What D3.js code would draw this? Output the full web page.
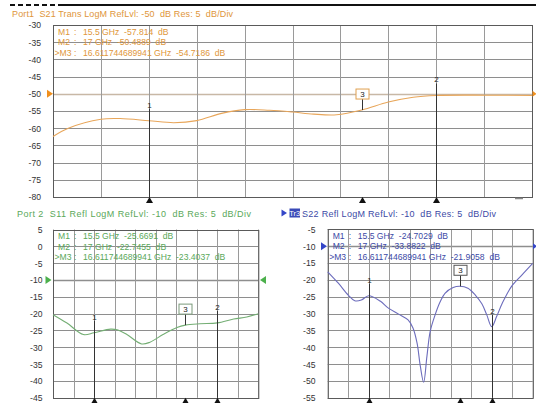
<!DOCTYPE html>
<html><head><meta charset="utf-8">
<script src="https://cdn.jsdelivr.net/npm/d3@7"></script>
<style>
html,body{margin:0;padding:0;background:#fff;}
svg{display:block;font-family:"Liberation Sans",Arial,sans-serif;}
text{white-space:pre;}
</style></head><body>
<svg id="chart" width="536" height="403"></svg>
<script>
// Sweep: 15 GHz to 17.5 GHz, 0.25 GHz per division
const freqGrid = [15.0, 15.25, 15.5, 15.75, 16.0, 16.25, 16.5, 16.75, 17.0, 17.25, 17.5];

// Marker frequencies (GHz): M1, M2, M3
const markerFreqs = [15.5, 17, 16.611744689941];

// S21 transmission (dB)
const s21Freq = [15.0, 15.08, 15.25, 15.35, 15.5, 15.63, 15.75, 15.88, 16.0, 16.13, 16.25, 16.36, 16.48, 16.611744689941, 16.75, 16.88, 17.0, 17.25, 17.5];
const s21Vals = [-62.4, -60.0, -57.4, -57.2, -57.814, -58.4, -57.8, -55.7, -54.6, -54.8, -55.3, -55.9, -56.1, -54.7186, -52.4, -51.0, -50.4889, -50.4, -50.5];
const s21Markers = [-57.814, -50.4889, -54.7186];
const s21Ticks = [-30, -35, -40, -45, -50, -55, -60, -65, -70, -75, -80];

// S11 reflection (dB)
const s11Freq = [15.0, 15.17, 15.37, 15.5, 15.7, 15.78, 15.9, 16.08, 16.18, 16.34, 16.51, 16.611744689941, 16.79, 17.0, 17.2, 17.36, 17.5];
const s11Vals = [-20.3, -22.8, -26.2, -25.6691, -24.6, -24.8, -26.2, -29.0, -28.5, -26.2, -24.1, -23.4037, -23.0, -22.7455, -21.6, -21.0, -20.0];
const s11Markers = [-25.6691, -22.7455, -23.4037];
const s11Ticks = [5, 0, -5, -10, -15, -20, -25, -30, -35, -40, -45];

// S22 reflection (dB)
const s22Freq = [15.0, 15.13, 15.25, 15.33, 15.41, 15.5, 15.64, 15.74, 15.86, 15.98, 16.04, 16.09, 16.13, 16.17, 16.21, 16.25, 16.31, 16.37, 16.43, 16.53, 16.611744689941, 16.71, 16.8, 16.88, 16.94, 17.0, 17.06, 17.13, 17.24, 17.37, 17.5];
const s22Vals = [-17.6, -21.0, -24.5, -26.2, -26.0, -24.7029, -26.3, -28.4, -30.1, -31.9, -34.3, -38.8, -45.7, -50.4, -42.7, -35.3, -30.4, -26.6, -24.0, -22.3, -21.9058, -22.5, -24.5, -27.1, -30.4, -33.8822, -30.9, -26.9, -22.0, -18.5, -15.1];
const s22Markers = [-24.7029, -33.8822, -21.9058];
const s22Ticks = [-5, -10, -15, -20, -25, -30, -35, -40, -45, -50, -55];

const svg = d3.select("#chart");
const FONT = 8.6;

// top rule
svg.append("line").attr("x1", 10).attr("x2", 62).attr("y1", 5).attr("y2", 5)
  .attr("stroke", "#111").attr("stroke-width", 2).attr("stroke-dasharray", "5,3");
svg.append("line").attr("x1", 62).attr("x2", 536).attr("y1", 5).attr("y2", 5)
  .attr("stroke", "#111").attr("stroke-width", 2);

function drawPanel(p) {
  const g = svg.append("g");
  const x = d3.scaleLinear().domain([freqGrid[0], freqGrid[freqGrid.length - 1]]).range([p.left, p.right]);
  const y = d3.scaleLinear().domain([p.ticks[0], p.ticks[p.ticks.length - 1]]).range([p.top, p.bottom]);

  // grid
  g.selectAll(".hg").data(p.ticks).join("line")
    .attr("x1", p.left).attr("x2", p.right)
    .attr("y1", d => Math.round(y(d)) + 0.5).attr("y2", d => Math.round(y(d)) + 0.5)
    .attr("stroke", d => d === p.refLvl ? p.refGrid : "#8e8e8e").attr("stroke-width", d => d === p.refLvl ? 1.6 : 1);
  g.selectAll(".vg").data(freqGrid).join("line")
    .attr("x1", d => Math.round(x(d)) + 0.5).attr("x2", d => Math.round(x(d)) + 0.5)
    .attr("y1", p.top).attr("y2", p.bottom)
    .attr("stroke", "#9a9a9a").attr("stroke-width", 1);
  g.append("rect").attr("x", p.left + 0.5).attr("y", Math.round(p.top) + 0.5)
    .attr("width", p.right - p.left).attr("height", Math.round(p.bottom) - Math.round(p.top))
    .attr("fill", "none").attr("stroke", "#5a5a5a").attr("stroke-width", 1);

  // dB labels
  const ax = d3.axisLeft(y).tickValues(p.ticks).tickSize(0).tickPadding(0).tickFormat(d => String(d));
  const ag = g.append("g").attr("transform", `translate(${p.labelRight},0)`).call(ax);
  ag.select(".domain").remove();
  ag.selectAll("text").attr("font-size", FONT).attr("font-family", '"Liberation Sans",Arial,sans-serif')
    .attr("fill", "#333").attr("dy", "0.34em");

  // reference level arrows
  const ry = y(p.refLvl);
  g.append("path").attr("d", `M${p.arrowL},${ry - 4}L${p.arrowL + 6},${ry}L${p.arrowL},${ry + 4}Z`).attr("fill", p.arrow);
  if (p.arrowR !== undefined) {
    g.append("path").attr("d", p.arrowRight
      ? `M${p.arrowR + 6},${ry - 4}L${p.arrowR},${ry}L${p.arrowR + 6},${ry + 4}Z`
      : `M${p.arrowR},${ry - 3}L${p.arrowR + 4},${ry}L${p.arrowR},${ry + 3}Z`).attr("fill", p.arrow);
  }

  // trace
  const pts = p.freq.map((f, i) => [f, p.vals[i]]);
  g.append("path").datum(pts)
    .attr("d", d3.line().x(d => x(d[0])).y(d => y(d[1])).curve(d3.curveCatmullRom.alpha(0.5)))
    .attr("fill", "none").attr("stroke", p.trace).attr("stroke-width", 1.1);

  // markers
  markerFreqs.forEach((f, i) => {
    const mx = Math.round(x(f)) + 0.5, my = y(p.markers[i]);
    if (i < 2) {
      g.append("line").attr("x1", mx).attr("x2", mx).attr("y1", my - 12).attr("y2", p.bottom)
        .attr("stroke", "#333").attr("stroke-width", 1);
      g.append("text").attr("x", mx).attr("y", my - 13).attr("text-anchor", "middle")
        .attr("font-size", 8).attr("fill", "#222").text(String(i + 1));
    } else {
      g.append("line").attr("x1", mx).attr("x2", mx).attr("y1", my - 11).attr("y2", my)
        .attr("stroke", "#333").attr("stroke-width", 1);
      g.append("rect").attr("x", mx - 6.5).attr("y", my - 21).attr("width", 13).attr("height", 10)
        .attr("fill", "#fff").attr("stroke", p.box).attr("stroke-width", 1);
      g.append("text").attr("x", mx).attr("y", my - 13).attr("text-anchor", "middle")
        .attr("font-size", 8).attr("fill", "#222").text("3");
    }
    g.append("path").attr("d", `M${mx},${p.bottom}L${mx + 3.5},${p.bottom + 6}L${mx - 3.5},${p.bottom + 6}Z`)
      .attr("fill", "#111");
  });

  // marker readout
  const rowOff = [6.5, 17, 27.5];
  markerFreqs.forEach((f, i) => {
    const ty = p.top + rowOff[i] + 3;
    const name = i === 2 ? ">M3" : "M" + (i + 1);
    g.append("text").attr("x", p.left + (i === 2 ? 1.5 : 5)).attr("y", ty).attr("font-size", FONT)
      .attr("fill", p.text).text(name);
    g.append("text").attr("x", p.left + 21).attr("y", ty).attr("font-size", FONT).attr("fill", p.text).text(":");
    g.append("text").attr("x", p.left + 30).attr("y", ty).attr("font-size", FONT).attr("fill", p.text)
      .text(`${String(f)} GHz  ${String(p.markers[i])}  dB`);
  });

  // title
  g.append("text").attr("x", p.titleX).attr("y", p.titleY).attr("font-size", FONT + 0.4)
    .attr("fill", p.text).attr("textLength", p.titleW).attr("lengthAdjust", "spacing").text(p.title);
  return { x, y, g };
}

const transPanel = drawPanel({
  left: 53, right: 532, top: 25, bottom: 197, labelRight: 41,
  ticks: s21Ticks, refLvl: -50, refGrid: "#c8b8a6",
  freq: s21Freq, vals: s21Vals, markers: s21Markers,
  trace: "#e8a65a", text: "#e0963a", box: "#e0a050", arrow: "#f0901e",
  arrowL: 47, arrowR: 532.5,
  title: "Port1  S21 Trans LogM RefLvl: -50  dB Res: 5  dB/Div", titleX: 12, titleY: 16.5, titleW: 221
});
// small stub on the lower edge
transPanel.g.append("line").attr("x1", 515).attr("x2", 523).attr("y1", 198.5).attr("y2", 198.5)
  .attr("stroke", "#888").attr("stroke-width", 1.5);

drawPanel({
  left: 53, right: 258.3, top: 229.5, bottom: 397.8, labelRight: 42.5,
  ticks: s11Ticks, refLvl: -10, refGrid: "#8e8e8e",
  freq: s11Freq, vals: s11Vals, markers: s11Markers,
  trace: "#74ae74", text: "#5aa85a", box: "#7a9a7a", arrow: "#4cb04c",
  arrowL: 45.5, arrowR: 260, arrowRight: true,
  title: "Port 2  S11 Refl LogM RefLvl: -10  dB Res: 5  dB/Div", titleX: 17, titleY: 216.5, titleW: 234
});

const s22Panel = drawPanel({
  left: 327.7, right: 532.7, top: 229.3, bottom: 397.8, labelRight: 315.5,
  ticks: s22Ticks, refLvl: -10, refGrid: "#8e8e8e",
  freq: s22Freq, vals: s22Vals, markers: s22Markers,
  trace: "#6c6cbc", text: "#3c4aa6", box: "#555", arrow: "#3446c8",
  arrowL: 321, arrowR: 533,
  title: "S22 Refl LogM RefLvl: -10  dB Res: 5  dB/Div", titleX: 302, titleY: 216.5, titleW: 194
});
// active trace tag
s22Panel.g.append("path").attr("d", "M281.5,209.5L287,213L281.5,216.5Z").attr("fill", "#3446c8");
s22Panel.g.append("rect").attr("x", 289.5).attr("y", 208.5).attr("width", 10.5).attr("height", 9).attr("fill", "#3a4ab8");
s22Panel.g.append("text").attr("x", 294.7).attr("y", 216).attr("text-anchor", "middle").attr("font-size", 7.5)
  .attr("fill", "#fff").text("Tr3");
</script>
</body></html>
